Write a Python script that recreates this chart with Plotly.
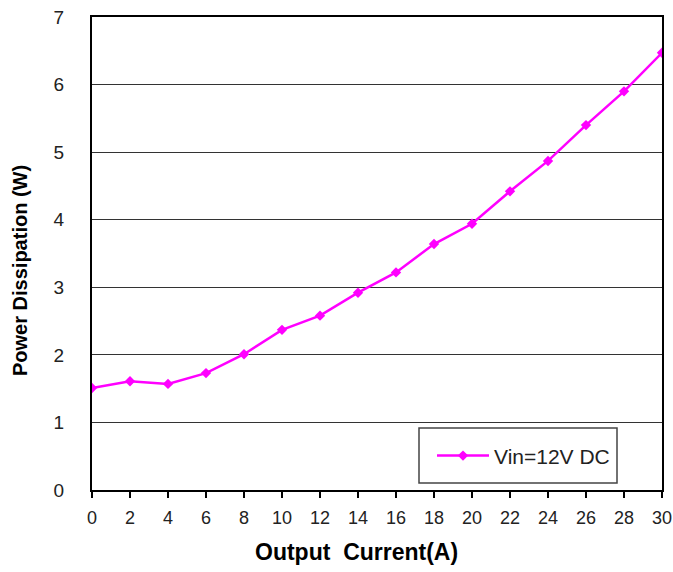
import plotly.graph_objects as go

# Output current (A) and measured power dissipation (W)
current_a = [0, 2, 4, 6, 8, 10, 12, 14, 16, 18, 20, 22, 24, 26, 28, 30]
power_w = [1.51, 1.61, 1.57, 1.73, 2.01, 2.37, 2.58, 2.92, 3.22, 3.64, 3.94,
           4.42, 4.87, 5.40, 5.90, 6.47]
series_name = "Vin=12V DC"

x_ticks = list(range(0, 31, 2))
y_ticks = list(range(0, 8))

FONT = "Liberation Sans, Arial, sans-serif"
MAGENTA = "#FF00FF"

L, R, T, B = 92, 11, 17, 82
PW, PH = 673 - L - R, 572 - T - B

fig = go.Figure()
fig.add_trace(go.Scatter(
    x=current_a, y=power_w, name=series_name, mode="lines+markers",
    line=dict(color=MAGENTA, width=2.5),
    marker=dict(symbol="diamond", size=8, color=MAGENTA),
))

fig.update_layout(
    width=673, height=572,
    margin=dict(l=L, r=R, t=T, b=B, autoexpand=False),
    paper_bgcolor="white", plot_bgcolor="white",
    font=dict(family=FONT, size=19, color="#222"),
    showlegend=True,
    legend=dict(
        x=(432 - L) / PW, y=0.072, xanchor="left", yanchor="middle",
        bgcolor="rgba(0,0,0,0)", borderwidth=0,
        itemwidth=52, font=dict(size=21, color="#222"),
    ),
    xaxis=dict(
        range=[0, 30], tickvals=x_ticks, showgrid=False, zeroline=False,
        showline=True, linecolor="black", linewidth=2, mirror=True,
        ticks="outside", ticklen=6, tickwidth=2, tickcolor="black",
        ticklabelstandoff=4, automargin=False, ticklabeloverflow="allow",
        tickfont=dict(size=18),
    ),
    yaxis=dict(
        range=[0, 7], tickvals=y_ticks, showgrid=True, gridcolor="#333",
        gridwidth=1, zeroline=False,
        showline=True, linecolor="black", linewidth=2, mirror=True,
        ticks="", ticklabelstandoff=22, automargin=False,
    ),
    shapes=[dict(
        type="rect", xref="paper", yref="paper",
        x0=(419 - L) / PW, x1=(617 - L) / PW,
        y0=(490 - 483) / PH, y1=(490 - 428) / PH,
        line=dict(color="#444", width=1.5), fillcolor="white", layer="below",
    )],
    annotations=[
        dict(text="<b>Output  Current(A)</b>", xref="paper", yref="paper",
             x=(356 - L) / PW, y=(490 - 552) / PH, xanchor="center",
             yanchor="middle", showarrow=False,
             font=dict(size=23, color="black", family=FONT)),
        dict(text="<b>Power Dissipation (W)</b>", xref="paper", yref="paper",
             x=(20 - L) / PW, y=(490 - 271) / PH, xanchor="center",
             yanchor="middle", textangle=-90, showarrow=False,
             font=dict(size=20, color="black", family=FONT)),
    ],
)

fig.write_html("out.html")
